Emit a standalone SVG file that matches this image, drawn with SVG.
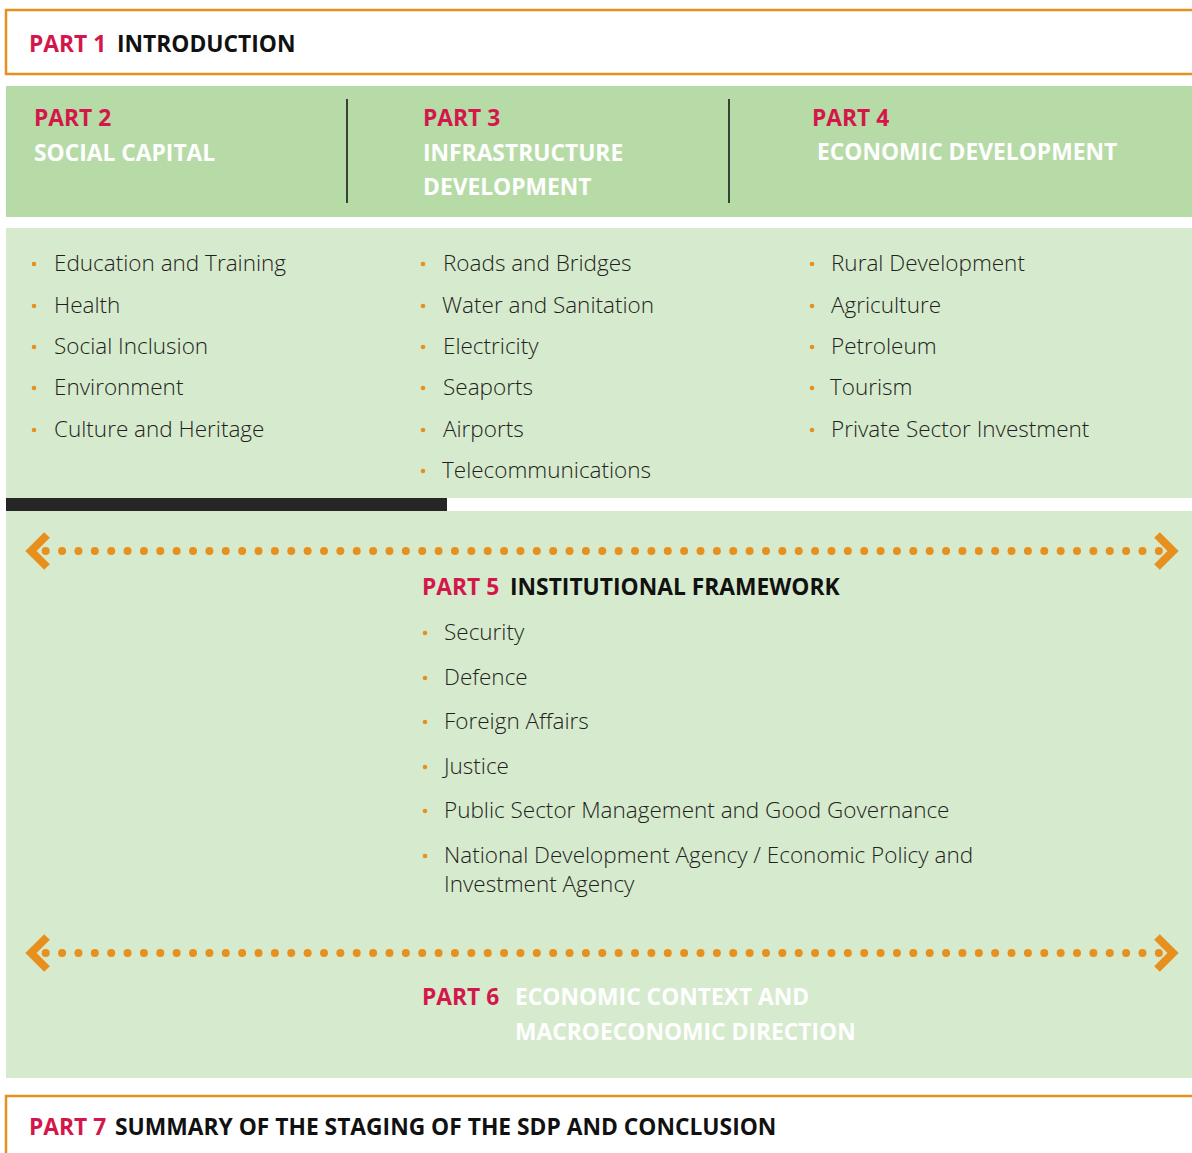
<svg xmlns="http://www.w3.org/2000/svg" width="1192" height="1153" viewBox="0 0 1192 1153">
<defs>
<style>
.hd{font-family:"Open Sans","Liberation Sans",sans-serif;font-weight:700;font-size:22.8px}
.red{fill:#D4174A}
.blk{fill:#111111}
.wht{fill:#FFFFFF}
.it{font-family:"Open Sans","Liberation Sans",sans-serif;font-weight:300;font-size:22.5px;fill:#231F20}
.bul{fill:#E8901E}
.box{fill:#FFFFFF;stroke:#E8901E;stroke-width:2.5}
.dots{stroke:#E8901E;stroke-width:8;stroke-linecap:round;stroke-dasharray:0 16.37;fill:none}
.chev{stroke:#E8901E;stroke-width:8;fill:none;stroke-linejoin:miter;stroke-miterlimit:10}
.div{stroke:#1a1a1a;stroke-width:1.6}
</style>
</defs>
<rect width="1192" height="1153" fill="#FFFFFF"/>

<g id="part1">
<rect class="box" x="6" y="10" width="1200" height="64"/>
<text x="29" y="52" class="hd"><tspan class="red">PART 1</tspan><tspan x="117" class="blk">INTRODUCTION</tspan></text>
</g>

<g id="header-band">
<rect x="6" y="86" width="1186" height="131" fill="#B7DBA7"/>
<line class="div" x1="347" y1="99" x2="347" y2="203"/>
<line class="div" x1="729" y1="99" x2="729" y2="203"/>
</g>

<g id="part2-head">
<text x="34" y="126" class="hd red">PART 2</text>
<text x="34" y="161" class="hd wht">SOCIAL CAPITAL</text>
</g>
<g id="part3-head">
<text x="423" y="126" class="hd red">PART 3</text>
<text x="423" y="161" class="hd wht">INFRASTRUCTURE</text>
<text x="423" y="195" class="hd wht">DEVELOPMENT</text>
</g>
<g id="part4-head">
<text x="812" y="126" class="hd red">PART 4</text>
<text x="817" y="160" class="hd wht">ECONOMIC DEVELOPMENT</text>
</g>

<g id="lists-band">
<rect x="6" y="228" width="1186" height="270" fill="#D6EACE"/>
</g>

<g id="part2-list">
<circle class="bul" cx="34" cy="264" r="2.3"/><text class="it" x="54" y="271">Education and Training</text>
<circle class="bul" cx="34" cy="306" r="2.3"/><text class="it" x="54" y="313">Health</text>
<circle class="bul" cx="34" cy="347" r="2.3"/><text class="it" x="54" y="354">Social Inclusion</text>
<circle class="bul" cx="34" cy="388" r="2.3"/><text class="it" x="54" y="395">Environment</text>
<circle class="bul" cx="34" cy="430" r="2.3"/><text class="it" x="54" y="437">Culture and Heritage</text>
</g>
<g id="part3-list">
<circle class="bul" cx="423" cy="264" r="2.3"/><text class="it" x="443" y="271">Roads and Bridges</text>
<circle class="bul" cx="423" cy="306" r="2.3"/><text class="it" x="442" y="313">Water and Sanitation</text>
<circle class="bul" cx="423" cy="347" r="2.3"/><text class="it" x="443" y="354">Electricity</text>
<circle class="bul" cx="423" cy="388" r="2.3"/><text class="it" x="443" y="395">Seaports</text>
<circle class="bul" cx="423" cy="430" r="2.3"/><text class="it" x="443" y="437">Airports</text>
<circle class="bul" cx="423" cy="471" r="2.3"/><text class="it" x="442" y="478">Telecommunications</text>
</g>
<g id="part4-list">
<circle class="bul" cx="812" cy="264" r="2.3"/><text class="it" x="831" y="271">Rural Development</text>
<circle class="bul" cx="812" cy="306" r="2.3"/><text class="it" x="831" y="313">Agriculture</text>
<circle class="bul" cx="812" cy="347" r="2.3"/><text class="it" x="831" y="354">Petroleum</text>
<circle class="bul" cx="812" cy="388" r="2.3"/><text class="it" x="830" y="395">Tourism</text>
<circle class="bul" cx="812" cy="430" r="2.3"/><text class="it" x="831" y="437">Private Sector Investment</text>
</g>

<g id="separator">
<rect x="6" y="498" width="441" height="13" fill="#262626"/>
</g>

<g id="framework-band">
<rect x="6" y="511" width="1186" height="567" fill="#D6EACE"/>
</g>

<g id="connectors">
<line class="dots" x1="45.7" y1="551" x2="1159" y2="551"/>
<polyline class="chev" points="47,535 31,551 47,567"/>
<polyline class="chev" points="1157,535 1173,551 1157,567"/>
<line class="dots" x1="45.7" y1="953" x2="1159" y2="953"/>
<polyline class="chev" points="47,937 31,953 47,969"/>
<polyline class="chev" points="1157,937 1173,953 1157,969"/>
</g>

<g id="part5">
<text x="422" y="595" class="hd"><tspan class="red">PART 5</tspan><tspan x="510" class="blk">INSTITUTIONAL FRAMEWORK</tspan></text>
<circle class="bul" cx="425" cy="633" r="2.3"/><text class="it" x="444" y="640">Security</text>
<circle class="bul" cx="425" cy="678" r="2.3"/><text class="it" x="444" y="685">Defence</text>
<circle class="bul" cx="425" cy="722" r="2.3"/><text class="it" x="444" y="729">Foreign Affairs</text>
<circle class="bul" cx="425" cy="767" r="2.3"/><text class="it" x="444" y="774">Justice</text>
<circle class="bul" cx="425" cy="811" r="2.3"/><text class="it" x="444" y="818">Public Sector Management and Good Governance</text>
<circle class="bul" cx="425" cy="856" r="2.3"/><text class="it" x="444" y="863">National Development Agency / Economic Policy and</text>
<text class="it" x="444" y="892">Investment Agency</text>
</g>

<g id="part6">
<text x="422" y="1005" class="hd red">PART 6</text>
<text x="515" y="1005" class="hd wht">ECONOMIC CONTEXT AND</text>
<text x="515" y="1040" class="hd wht">MACROECONOMIC DIRECTION</text>
</g>

<g id="part7">
<rect class="box" x="6" y="1096" width="1200" height="80"/>
<text x="29" y="1135" class="hd"><tspan class="red">PART 7</tspan><tspan x="115" class="blk">SUMMARY OF THE STAGING OF THE SDP AND CONCLUSION</tspan></text>
</g>
</svg>
